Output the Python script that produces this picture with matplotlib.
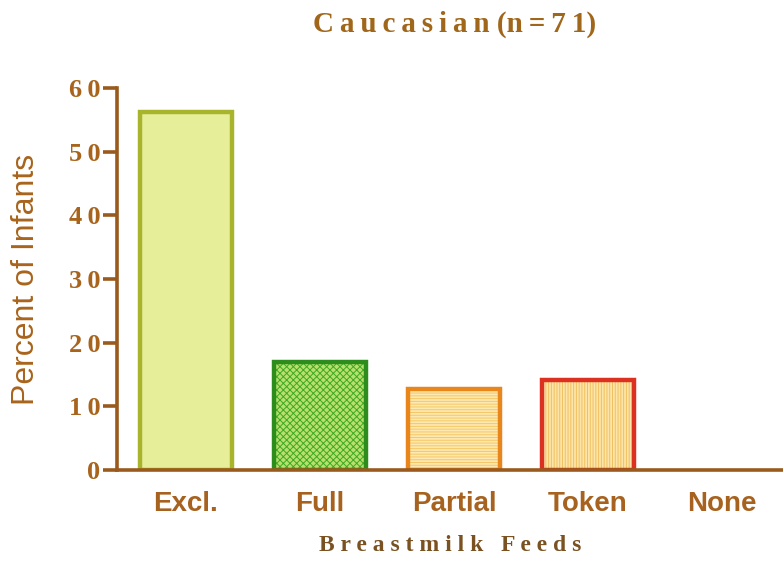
import matplotlib
matplotlib.use("Agg")
import matplotlib.pyplot as plt

categories = ["Excl.", "Full", "Partial", "Token", "None"]
percents = [56.3, 16.9, 12.7, 14.1, 0.0]
y_ticks = [0, 10, 20, 30, 40, 50, 60]

fills = ["#e6ee9a", "#b8e070", "#fde8b0", "#fde4a8", "#ffffff"]
hatch_cols = ["#e6ee9a", "#3ea820", "#f4c868", "#f0c060", "#ffffff"]
edges = ["#a8b42c", "#2c8c1c", "#e8861c", "#dc3020", "#ffffff"]
hatches = [None, "xxxxx", "------", "||||||", None]

brown = "#9a5a1e"
serif = ["Liberation Serif", "DejaVu Serif"]

plt.rcParams["hatch.linewidth"] = 0.7

fig = plt.figure(figsize=(7.83, 5.62), dpi=100)
ax = fig.add_axes([0.1494, 0.1637, 0.8506, 0.6797])

x = list(range(len(categories)))
for i in x:
    if percents[i] <= 0:
        continue
    # fill + hatch drawn first, border on top
    ax.bar(i, percents[i], width=0.69, color=fills[i], hatch=hatches[i],
           edgecolor=hatch_cols[i], linewidth=0)
    ax.bar(i, percents[i], width=0.69, color="none", edgecolor=edges[i],
           linewidth=3.2)

ax.set_xlim(-0.515, 4.455)
ax.set_ylim(0, 60)
ax.set_yticks(y_ticks)
ax.set_yticklabels(["\u2009".join(str(t)) for t in y_ticks], family=serif,
                   fontweight="bold", fontsize=19, color="#a8641c")
ax.set_xticks(x)
ax.set_xticklabels(categories, fontfamily="Liberation Sans", fontweight="bold",
                   fontsize=20, color="#a6621e")

ax.tick_params(axis="y", length=10, width=2.6, color=brown, pad=2)
ax.tick_params(axis="x", length=0, pad=15)

for s in ["top", "right"]:
    ax.spines[s].set_visible(False)
for s in ["left", "bottom"]:
    ax.spines[s].set_color(brown)
    ax.spines[s].set_linewidth(2.6)

ax.set_ylabel("Percent of Infants", family=["Liberation Sans Narrow", "Liberation Sans"],
              fontsize=23, color="#a8641c", labelpad=20)
ax.set_xlabel("B r e a s t m i l k   F e e d s", family=serif,
              fontweight="bold", fontsize=17, color="#7a5222", labelpad=13)
fig.text(0.58, 0.956, "C\u2009a\u2009u\u2009c\u2009a\u2009s\u2009i\u2009a\u2009n (n\u2009=\u20097\u20091)",
         ha="center", va="center", family=serif, fontweight="bold",
         fontsize=21, color="#a0661a")

fig.savefig("out.png", dpi=100)
